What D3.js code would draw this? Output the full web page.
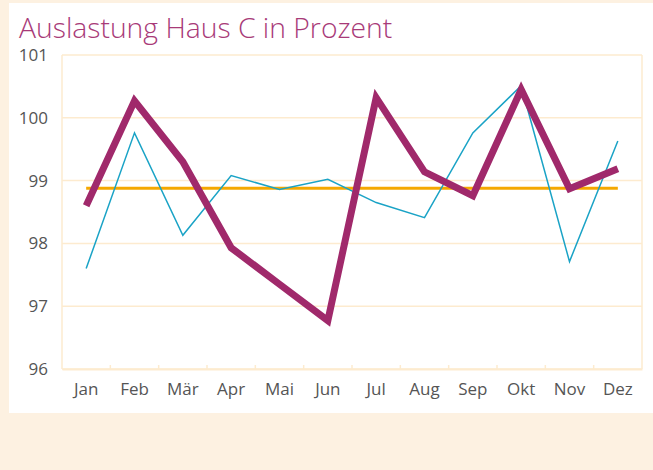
<!DOCTYPE html>
<html><head><meta charset="utf-8">
<script src="https://cdn.jsdelivr.net/npm/d3@7"></script>
<style>body{margin:0;background:#fdf1e1;}svg{display:block}</style>
</head><body>
<svg id="c" width="653" height="470"></svg>
<script>
const months = ["Jan","Feb","Mär","Apr","Mai","Jun","Jul","Aug","Sep","Okt","Nov","Dez"];
const hausC = [98.6,100.27,99.3,97.93,97.35,96.77,100.32,99.14,98.76,100.45,98.87,99.19];
const vergleich = [97.6,99.76,98.13,99.08,98.86,99.02,98.65,98.41,99.76,100.51,97.71,99.63];
const durchschnitt = [98.88,98.88,98.88,98.88,98.88,98.88,98.88,98.88,98.88,98.88,98.88,98.88];
const yTicks = [96,97,98,99,100,101];

const svg = d3.select("#c");
svg.append("rect").attr("x",9).attr("y",3).attr("width",644).attr("height",410).attr("fill","#fff");
svg.append("text").attr("x",19).attr("y",38).text("Auslastung Haus C in Prozent")
  .attr("font-family","Open Sans").attr("font-weight",300).attr("font-size",28.3).attr("fill","#a83a78");

const m = {l:62,r:642,t:55,b:369};
const x = d3.scaleBand().domain(months).range([m.l,m.r]);
const y = d3.scaleLinear().domain([96,101]).range([m.b,m.t]);
const grid = "#fdebcf";
svg.append("g").selectAll("line").data(yTicks).join("line")
  .attr("x1",m.l).attr("x2",m.r).attr("y1",d=>y(d)).attr("y2",d=>y(d))
  .attr("stroke",grid).attr("stroke-width",1.5);
svg.append("line").attr("x1",m.l).attr("x2",m.l).attr("y1",m.t).attr("y2",m.b).attr("stroke",grid).attr("stroke-width",1.5);
svg.append("line").attr("x1",m.r).attr("x2",m.r).attr("y1",m.t).attr("y2",m.b).attr("stroke",grid).attr("stroke-width",1.5);

const xAxis = svg.append("g").attr("transform",`translate(0,${m.b})`)
  .call(d3.axisBottom(x).tickSize(0).tickPadding(14));
xAxis.select(".domain").attr("stroke",grid).attr("stroke-width",2);
xAxis.selectAll("text").attr("font-family","Open Sans").attr("font-size",17).attr("fill","#555");
svg.append("g").selectAll("line").data(months.slice(1)).join("line")
  .attr("x1",d=>x(d)).attr("x2",d=>x(d)).attr("y1",m.b).attr("y2",m.b-4)
  .attr("stroke",grid).attr("stroke-width",1.5);

const yAxis = svg.append("g").attr("transform",`translate(${m.l},0)`)
  .call(d3.axisLeft(y).tickValues(yTicks).tickFormat(d3.format("d")).tickSize(0).tickPadding(14));
yAxis.select(".domain").remove();
yAxis.selectAll("text").attr("font-family","Open Sans").attr("font-size",17).attr("fill","#555");

const line = d3.line().x((d,i)=>x(months[i])+x.bandwidth()/2).y(d=>y(d));
svg.append("path").datum(durchschnitt).attr("d",line).attr("fill","none").attr("stroke","#f5a800").attr("stroke-width",3);
svg.append("path").datum(vergleich).attr("d",line).attr("fill","none").attr("stroke","#1aa3c6").attr("stroke-width",1.5);
svg.append("path").datum(hausC).attr("d",line).attr("fill","none").attr("stroke","#a0296b").attr("stroke-width",7);
</script>
</body></html>
